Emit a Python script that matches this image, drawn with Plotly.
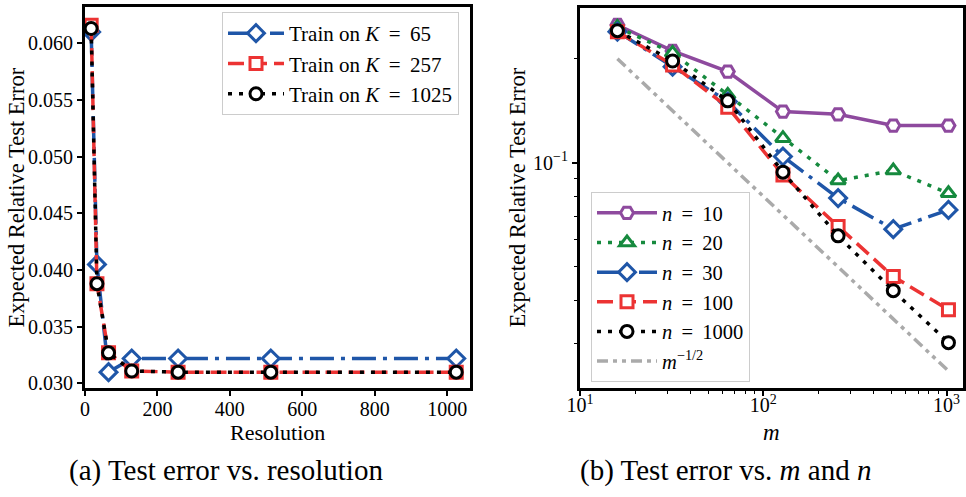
import plotly.graph_objects as go

# ---------------- data ----------------
resolution = [17, 33, 65, 129, 257, 513, 1025]
err_K65 = [0.0610, 0.0405, 0.0310, 0.0322, 0.0322, 0.0322, 0.0322]
err_K257 = [0.0616, 0.0388, 0.0327, 0.0311, 0.0310, 0.0310, 0.0310]
err_K1025 = [0.0613, 0.0388, 0.0327, 0.0311, 0.0310, 0.0310, 0.0310]

m_vals = [16, 32, 64, 128, 256, 512, 1024]
err_n10 = [0.2505, 0.2107, 0.1836, 0.1407, 0.1382, 0.1282, 0.1282]
err_n20 = [0.2470, 0.2080, 0.1573, 0.1179, 0.0889, 0.0950, 0.0817]
err_n30 = [0.2396, 0.1898, 0.1504, 0.1043, 0.0791, 0.0643, 0.0731]
err_n100 = [0.2396, 0.1920, 0.1449, 0.0923, 0.0655, 0.0469, 0.0376]
err_n1000 = [0.2412, 0.1971, 0.1511, 0.0940, 0.0615, 0.0427, 0.0302]
ref_rate = [0.2000, 0.1414, 0.1000, 0.0707, 0.0500, 0.0354, 0.0250]

left_yticks = [0.030, 0.035, 0.040, 0.045, 0.050, 0.055, 0.060]
left_xticks = [0, 200, 400, 600, 800, 1000]
right_xticks = [10, 100, 1000]
right_xticklabels = ["10<sup>1</sup>", "10<sup>2</sup>", "10<sup>3</sup>"]
right_yticks = [0.1]
right_yticklabels = ["10<sup>\u22121</sup>"]

# ---------------- style ----------------
W, H = 966, 497
FONT = "Liberation Serif"
BLUE = "#1f56a8"
RED = "#ec3333"
BLACK = "#000000"
PURPLE = "#8e4a9e"
GREEN = "#168a3e"
GRAY = "#aaaaaa"
LW = 3.5

DASHDOT = "24px,7px,4px,7px"
DASHED = "16px,7px"
DOTTED = "4px,7px"
DASHDOTDOT = "11px,5px,4px,5px,4px,5px"
EQ = "\u2009=\u2009"


def px_x(p):
    return p / W


def px_y(p):
    return 1 - p / H


fig = go.Figure()

# ---- left panel ----
left_series = [
    ("Train on <i>K</i> " + EQ + " 65", err_K65, BLUE, DASHDOT, "diamond", 13),
    ("Train on <i>K</i> " + EQ + " 257", err_K257, RED, DASHED, "square", 12),
    ("Train on <i>K</i> " + EQ + " 1025", err_K1025, BLACK, DOTTED, "circle", 12),
]
for name, ys, col, dash, sym, sz in left_series:
    fig.add_trace(go.Scatter(
        x=resolution, y=ys, name=name, mode="lines+markers",
        line=dict(color=col, width=LW, dash=dash),
        marker=dict(symbol=sym, size=sz, color="white", line=dict(color=col, width=3)),
        xaxis="x", yaxis="y", legend="legend",
    ))

# ---- right panel ----
right_series = [
    ("<i>n</i> " + EQ + " 10", err_n10, PURPLE, "solid", "hexagon2", 13),
    ("<i>n</i> " + EQ + " 20", err_n20, GREEN, DOTTED, "triangle-up", 13),
    ("<i>n</i> " + EQ + " 30", err_n30, BLUE, DASHDOT, "diamond", 13),
    ("<i>n</i> " + EQ + " 100", err_n100, RED, DASHED, "square", 12),
    ("<i>n</i> " + EQ + " 1000", err_n1000, BLACK, DOTTED, "circle", 12),
]
for name, ys, col, dash, sym, sz in right_series:
    fig.add_trace(go.Scatter(
        x=m_vals, y=ys, name=name, mode="lines+markers",
        line=dict(color=col, width=LW, dash=dash),
        marker=dict(symbol=sym, size=sz, color="white", line=dict(color=col, width=3)),
        xaxis="x2", yaxis="y2", legend="legend2",
    ))
fig.add_trace(go.Scatter(
    x=m_vals, y=ref_rate, name="<i>m</i><sup>\u22121/2</sup>", mode="lines",
    line=dict(color=GRAY, width=LW, dash=DASHDOTDOT),
    xaxis="x2", yaxis="y2", legend="legend2",
))

axis_common = dict(
    showline=True, linecolor="black", linewidth=3, mirror=True,
    showgrid=False, zeroline=False, ticks="outside", ticklen=5, tickwidth=1.5,
    tickcolor="black", tickfont=dict(family=FONT, size=20, color="black"),
    autorange=False,
)

fig.update_layout(
    width=W, height=H,
    margin=dict(l=0, r=0, t=0, b=0, autoexpand=False),
    paper_bgcolor="white", plot_bgcolor="white",
    font=dict(family=FONT, color="black"),
    xaxis=dict(domain=[px_x(85), px_x(470)], range=[0, 1063],
               tickvals=left_xticks, anchor="y", ticklabelstandoff=-4, **axis_common),
    yaxis=dict(domain=[px_y(388), px_y(7)], range=[0.0296, 0.0632],
               tickvals=left_yticks, tickformat=".3f", anchor="x", **axis_common),
    xaxis2=dict(domain=[px_x(580), px_x(962.7)], type="log", range=[1, 3.088],
                tickvals=right_xticks, ticktext=right_xticklabels, anchor="y2",
                ticklabelstandoff=-8,
                minor=dict(tickvals=[20, 30, 40, 50, 60, 70, 80, 90,
                                     200, 300, 400, 500, 600, 700, 800, 900],
                           ticks="outside", ticklen=3, tickwidth=1.2, tickcolor="black"),
                **axis_common),
    yaxis2=dict(domain=[px_y(388.3), px_y(8.3)], type="log", range=[-1.652, -0.553],
                tickvals=right_yticks, ticktext=right_yticklabels, anchor="x2",
                minor=dict(tickvals=[0.03, 0.04, 0.05, 0.06, 0.07, 0.08, 0.09, 0.2],
                           ticks="outside", ticklen=3, tickwidth=1.2, tickcolor="black"),
                **axis_common),
    legend=dict(x=px_x(459), xanchor="right", y=px_y(12), yanchor="top",
                bgcolor="rgba(255,255,255,0.85)", bordercolor="#cccccc", borderwidth=1,
                font=dict(family=FONT, size=21, color="black"), itemwidth=56,
                tracegroupgap=0),
    legend2=dict(x=px_x(591), xanchor="left", y=px_y(192), yanchor="top",
                 bgcolor="rgba(255,255,255,0.85)", bordercolor="#cccccc", borderwidth=1,
                 font=dict(family=FONT, size=20.5, color="black"), itemwidth=60,
                 tracegroupgap=0),
    showlegend=True,
)

ann = []


def add_text(text, x, y, size, angle=0):
    ann.append(dict(text=text, x=px_x(x), y=px_y(y), xref="paper", yref="paper",
                    xanchor="center", yanchor="middle", textangle=angle,
                    showarrow=False, font=dict(family=FONT, size=size, color="black")))


add_text("Expected Relative Test Error", 16, 197.5, 22.5, -90)
add_text("Expected Relative Test Error", 517, 197.5, 22.5, -90)
add_text("Resolution", 277.5, 432, 22)
add_text("<i>m</i>", 771, 432, 23)
add_text("(a) Test error vs. resolution", 226, 470, 29)
add_text("(b) Test error vs. <i>m</i> and <i>n</i>", 725, 470, 29)
fig.update_layout(annotations=ann)

fig.write_html("out.html")
